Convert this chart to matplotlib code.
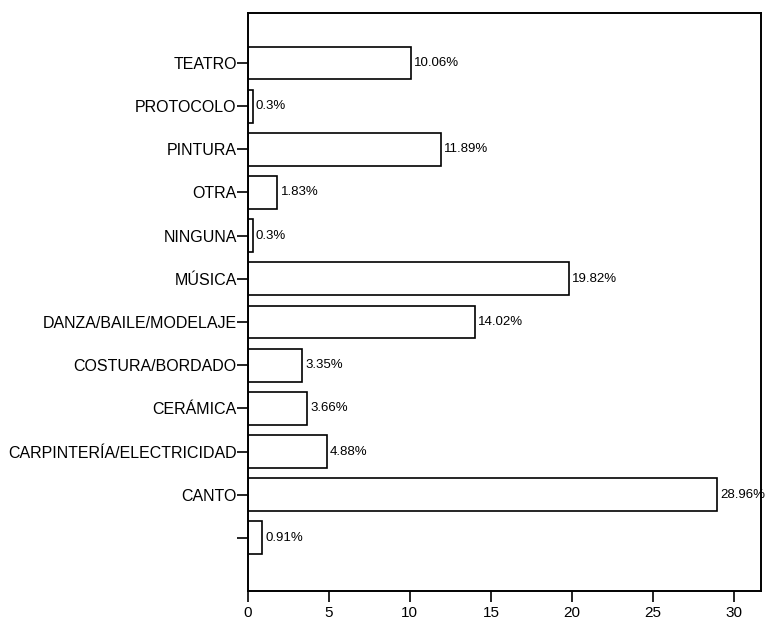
import matplotlib
matplotlib.use("Agg")
import matplotlib.pyplot as plt

categories = ["", "CANTO", "CARPINTERÍA/ELECTRICIDAD", "CERÁMICA", "COSTURA/BORDADO",
              "DANZA/BAILE/MODELAJE", "MÚSICA", "NINGUNA", "OTRA", "PINTURA",
              "PROTOCOLO", "TEATRO"]
values = [0.91, 28.96, 4.88, 3.66, 3.35, 14.02, 19.82, 0.3, 1.83, 11.89, 0.3, 10.06]
value_labels = ["0.91%", "28.96%", "4.88%", "3.66%", "3.35%", "14.02%", "19.82%",
                "0.3%", "1.83%", "11.89%", "0.3%", "10.06%"]
xticks = [0, 5, 10, 15, 20, 25, 30]

plt.rcParams['font.family'] = ['Liberation Sans', 'DejaVu Sans']

fig = plt.figure(figsize=(7.67, 6.23), dpi=100)
ax = fig.add_axes([0.323, 0.0514, 0.669, 0.928])

pos = list(range(len(categories)))
ax.barh(pos, values, height=0.76, color='white', edgecolor='black', linewidth=1.2)
for p, v, lab in zip(pos, values, value_labels):
    ax.text(v + 0.2, p, lab, va='center', ha='left', fontsize=9.5)

ax.set_xlim(0, 31.65)
ax.set_ylim(-1.23, 12.16)
ax.set_yticks(pos)
ax.set_yticklabels(categories, fontsize=11.5)
ax.set_xticks(xticks)
ax.set_xticklabels([str(t) for t in xticks], fontsize=11)
ax.tick_params(axis='y', length=8, width=1.2, pad=0, direction='out')
ax.tick_params(axis='x', length=8, width=1.2, pad=3, direction='out')
for s in ax.spines.values():
    s.set_linewidth(1.4)

fig.savefig("out.png", dpi=100)
